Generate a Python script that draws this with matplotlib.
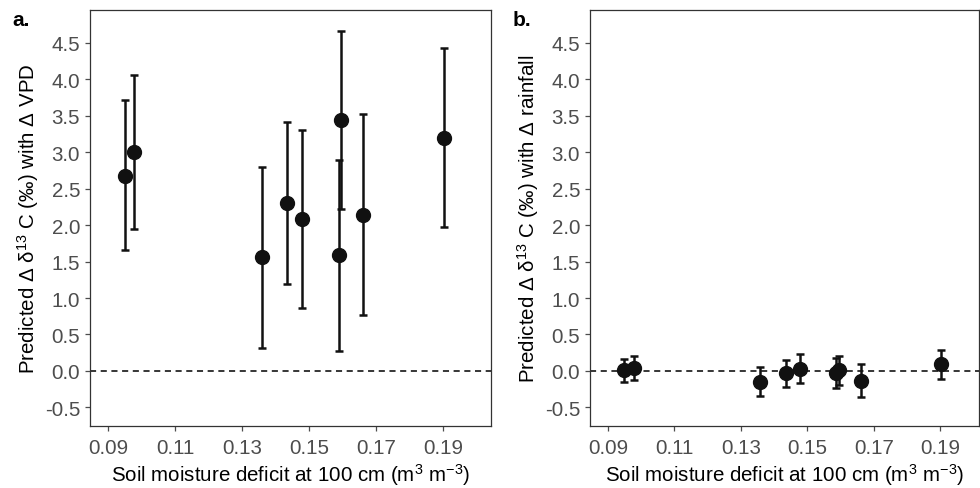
import matplotlib
matplotlib.use("Agg")
import matplotlib.pyplot as plt

plt.rcParams['font.family'] = ['Liberation Sans', 'DejaVu Sans']
plt.rcParams['mathtext.fontset'] = 'custom'
plt.rcParams['mathtext.rm'] = 'Liberation Sans'
plt.rcParams['mathtext.it'] = 'Liberation Sans'

# soil moisture deficit (x) shared by both panels
deficit = [0.0949, 0.0977, 0.1359, 0.1435, 0.1478, 0.1588, 0.1595, 0.1662, 0.1902]

# panel a: with delta VPD
vpd_mean = [2.68, 3.00, 1.56, 2.30, 2.09, 1.59, 3.44, 2.14, 3.20]
vpd_upper = [3.71, 4.06, 2.80, 3.41, 3.30, 2.89, 4.66, 3.52, 4.43]
vpd_lower = [1.66, 1.95, 0.32, 1.19, 0.87, 0.28, 2.22, 0.77, 1.97]

# panel b: with delta rainfall
rain_mean = [0.01, 0.04, -0.15, -0.03, 0.03, -0.03, 0.01, -0.14, 0.09]
rain_upper = [0.17, 0.21, 0.06, 0.15, 0.23, 0.18, 0.20, 0.09, 0.29]
rain_lower = [-0.15, -0.13, -0.35, -0.22, -0.17, -0.24, -0.19, -0.36, -0.11]

xticks = [0.09, 0.11, 0.13, 0.15, 0.17, 0.19]
yticks = [-0.5, 0.0, 0.5, 1.0, 1.5, 2.0, 2.5, 3.0, 3.5, 4.0, 4.5]

xlab = r"Soil moisture deficit at 100 cm (m$^{3}$ m$^{-3}$)"
ylabs = [r"Predicted Δ δ$^{13}$ C (‰) with Δ VPD",
         r"Predicted Δ δ$^{13}$ C (‰) with Δ rainfall"]

fig = plt.figure(figsize=(9.8, 4.89), dpi=100)
ax1 = fig.add_axes([90/980, 1 - 427/489, 401/980, 416/489])
ax2 = fig.add_axes([590/980, 1 - 427/489, 389/980, 416/489])

panels = [(ax1, vpd_mean, vpd_upper, vpd_lower, "a."),
          (ax2, rain_mean, rain_upper, rain_lower, "b.")]

for i, (ax, m, up, lo, tag) in enumerate(panels):
    err = [[a - b for a, b in zip(m, lo)], [b - a for a, b in zip(m, up)]]
    ax.axhline(0, color='black', ls=(0, (4, 3)), lw=1.1, zorder=1)
    ax.errorbar(deficit, m, yerr=err, fmt='o', color='#111111', ms=10,
                elinewidth=1.8, capsize=3, capthick=1.8, zorder=3)
    ax.set_ylim(-0.755, 4.95)
    ax.set_xticks(xticks)
    ax.set_xticklabels([f"{t:.2f}" for t in xticks])
    ax.set_yticks(yticks)
    ax.set_yticklabels([f"{t:.1f}" for t in yticks])
    ax.tick_params(colors='#4d4d4d', labelsize=14.8, length=3.6, width=0.9)
    ax.tick_params(axis='x', pad=5)
    for s in ax.spines.values():
        s.set_color('#333333')
        s.set_linewidth(0.9)
    ax.set_xlabel(xlab, fontsize=14.8, labelpad=3)
    ax.set_ylabel(ylabs[i], fontsize=14.8, labelpad=3)

ax1.set_xlim(0.0846, 0.2043)
ax2.set_xlim(0.0846, 0.2017)

fig.text(12/980, 1 - 20/489, "a.", fontsize=15, fontweight='bold', va='center')
fig.text(513/980, 1 - 20/489, "b.", fontsize=15, fontweight='bold', va='center')

fig.savefig("out.png", dpi=100)
